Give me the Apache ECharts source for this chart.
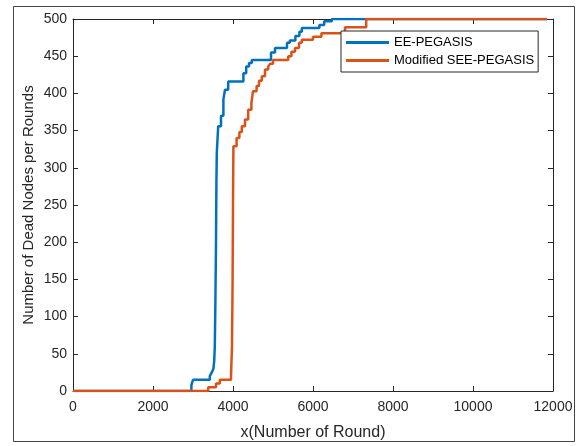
<!DOCTYPE html>
<html><head><meta charset="utf-8">
<script src="https://cdn.jsdelivr.net/npm/echarts@6/dist/echarts.min.js"></script>
<style>html,body{margin:0;padding:0;background:#fff}#c{width:577px;height:446px}</style>
</head><body><div id="c"></div>
<script>
var seriesNames = ['EE-PEGASIS', 'Modified SEE-PEGASIS'];
var xTicks = [0, 2000, 4000, 6000, 8000, 10000, 12000];
var yTicks = [0, 50, 100, 150, 200, 250, 300, 350, 400, 450, 500];
var blueX = [0, 2960, 3000, 3420, 3470, 3510, 3530, 3545, 3560, 3575, 3585, 3595, 3630, 3700, 3760, 3800, 3880, 4260, 4330, 4400, 4470, 4950, 5050, 5350, 5420, 5560, 5660, 5720, 6160, 6280, 6470, 11850];
var blueY = [0, 8, 15, 20, 25, 30, 40, 60, 120, 200, 280, 320, 356, 370, 392, 405, 416, 427, 436, 441, 445, 455, 461, 468, 471, 477, 483, 488, 492, 497, 500, 500];
var orangeX = [0, 3380, 3575, 3670, 3950, 3975, 3990, 4000, 4010, 4090, 4160, 4220, 4300, 4380, 4460, 4500, 4590, 4650, 4720, 4800, 4880, 4930, 5000, 5380, 5460, 5550, 5650, 5720, 6000, 6210, 6800, 7330, 11850];
var orangeY = [0, 5, 10, 15, 20, 60, 150, 250, 329, 340, 348, 356, 365, 378, 387, 403, 410, 417, 423, 432, 436, 440, 445, 450, 456, 461, 468, 472, 476, 481, 489, 500, 500];

function pairs(xs, ys){ return xs.map(function(x,i){return [x, ys[i]];}); }
var font = 'Liberation Sans, Arial, sans-serif';
var txt = '#262626';
function ax(extra){
  return Object.assign({
    type:'value',
    axisLine:{show:true,onZero:false,lineStyle:{color:txt,width:1}},
    axisTick:{show:true,inside:true,length:5,lineStyle:{color:txt}},
    splitLine:{show:false}
  }, extra);
}
var chart = echarts.init(document.getElementById('c'), null, {renderer:'canvas'});
chart.setOption({
  animation:false,
  backgroundColor:'#fff',
  textStyle:{fontFamily:font},
  grid:{left:73,right:24,top:19,bottom:53,containLabel:false},
  graphic:[{type:'rect',shape:{x:13.5,y:6.5,width:561,height:435},style:{fill:null,stroke:'#444',lineWidth:1},silent:true,z:-1}],
  legend:{
    left:341, top:31, orient:'vertical',
    data:seriesNames,
    icon:'rect', itemWidth:43, itemHeight:3, itemGap:3,
    padding:[4,4,4,5],
    borderColor:txt, borderWidth:1, backgroundColor:'#fff',
    textStyle:{fontSize:13,color:'#000',fontFamily:font,lineHeight:15}
  },
  xAxis:[
    ax({min:0,max:12000,interval:2000,position:'bottom',
      name:'x(Number of Round)', nameLocation:'middle', nameGap:34, nameMoveOverlap:false,
      nameTextStyle:{fontSize:16,color:txt,fontFamily:font},
      axisLabel:{fontSize:14,color:txt,fontFamily:font,margin:9,formatter:function(v){return String(v);}}}),
    ax({min:0,max:12000,interval:2000,position:'top',axisLabel:{show:false}})
  ],
  yAxis:[
    ax({min:0,max:500,interval:50,position:'left',
      name:'Number of Dead Nodes per Rounds', nameLocation:'middle', nameGap:37, nameMoveOverlap:false,
      nameTextStyle:{fontSize:15,color:txt,fontFamily:font},
      axisLabel:{fontSize:14,color:txt,fontFamily:font,margin:6,formatter:function(v){return String(v);}}}),
    ax({min:0,max:500,interval:50,position:'right',axisLabel:{show:false}})
  ],
  series:[
    {name:seriesNames[0],type:'line',step:'end',showSymbol:false,symbol:'none',data:pairs(blueX,blueY),
     lineStyle:{color:'#0072BD',width:2.5},itemStyle:{color:'#0072BD'}},
    {name:seriesNames[1],type:'line',step:'end',showSymbol:false,symbol:'none',data:pairs(orangeX,orangeY),
     lineStyle:{color:'#D95319',width:2.5},itemStyle:{color:'#D95319'}}
  ]
});
</script></body></html>
